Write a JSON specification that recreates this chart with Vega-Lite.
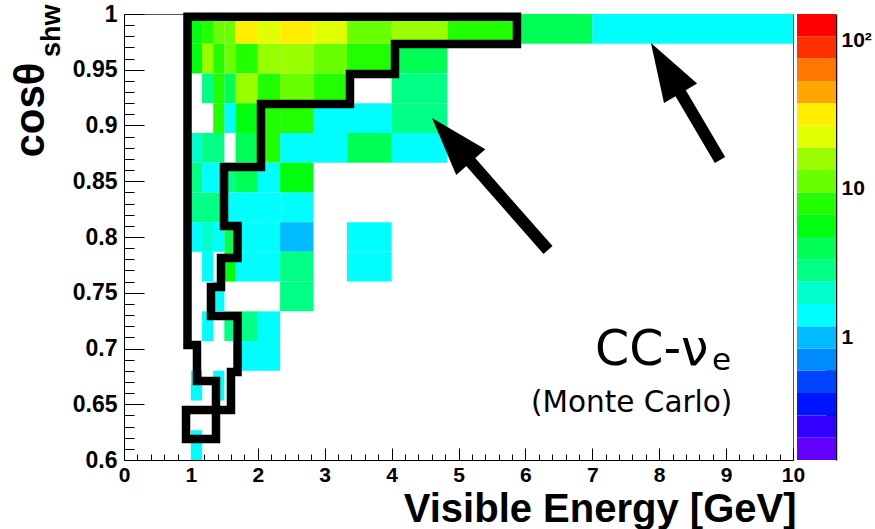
{
  "$schema": "https://vega.github.io/schema/vega-lite/v6.json",
  "width": 669,
  "height": 446,
  "autosize": {"type": "none"},
  "padding": {"left": 124, "top": 14, "right": 82, "bottom": 69},
  "background": "white",
  "config": {
    "view": {"stroke": "#555555", "strokeWidth": 1},
    "font": "Liberation Sans",
    "axis": {"grid": false, "domainColor": "black", "tickColor": "black", "labelColor": "black", "titleColor": "black", "labelOverlap": false, "labelFlush": false, "tickWidth": 1}
  },
  "datasets": {
    "cells": [
      {"e0": 1.0, "e1": 1.1667, "c0": 0.9733, "c1": 1.0, "n": 5.6},
      {"e0": 1.1667, "e1": 1.3333, "c0": 0.9733, "c1": 1.0, "n": 8},
      {"e0": 1.3333, "e1": 1.5, "c0": 0.9733, "c1": 1.0, "n": 11},
      {"e0": 1.5, "e1": 1.6667, "c0": 0.9733, "c1": 1.0, "n": 11},
      {"e0": 1.6667, "e1": 2.0, "c0": 0.9733, "c1": 1.0, "n": 32},
      {"e0": 2.0, "e1": 2.3333, "c0": 0.9733, "c1": 1.0, "n": 22},
      {"e0": 2.3333, "e1": 2.8333, "c0": 0.9733, "c1": 1.0, "n": 34},
      {"e0": 2.8333, "e1": 3.3333, "c0": 0.9733, "c1": 1.0, "n": 22},
      {"e0": 3.3333, "e1": 4.0, "c0": 0.9733, "c1": 1.0, "n": 11},
      {"e0": 4.0, "e1": 4.8333, "c0": 0.9733, "c1": 1.0, "n": 16},
      {"e0": 4.8333, "e1": 5.8333, "c0": 0.9733, "c1": 1.0, "n": 8},
      {"e0": 5.8333, "e1": 7.0, "c0": 0.9733, "c1": 1.0, "n": 4.2},
      {"e0": 7.0, "e1": 10.0, "c0": 0.9733, "c1": 1.0, "n": 1.4},

      {"e0": 1.0, "e1": 1.1667, "c0": 0.9467, "c1": 0.9733, "n": 5.6},
      {"e0": 1.1667, "e1": 1.3333, "c0": 0.9467, "c1": 0.9733, "n": 16},
      {"e0": 1.3333, "e1": 1.5, "c0": 0.9467, "c1": 0.9733, "n": 8},
      {"e0": 1.5, "e1": 1.6667, "c0": 0.9467, "c1": 0.9733, "n": 11},
      {"e0": 1.6667, "e1": 2.0, "c0": 0.9467, "c1": 0.9733, "n": 8},
      {"e0": 2.0, "e1": 2.3333, "c0": 0.9467, "c1": 0.9733, "n": 16},
      {"e0": 2.3333, "e1": 2.8333, "c0": 0.9467, "c1": 0.9733, "n": 16},
      {"e0": 2.8333, "e1": 3.3333, "c0": 0.9467, "c1": 0.9733, "n": 11},
      {"e0": 3.3333, "e1": 4.0, "c0": 0.9467, "c1": 0.9733, "n": 8},
      {"e0": 4.0, "e1": 4.8333, "c0": 0.9467, "c1": 0.9733, "n": 4.2},

      {"e0": 1.1667, "e1": 1.3333, "c0": 0.92, "c1": 0.9467, "n": 2.8},
      {"e0": 1.3333, "e1": 1.5, "c0": 0.92, "c1": 0.9467, "n": 8},
      {"e0": 1.5, "e1": 1.6667, "c0": 0.92, "c1": 0.9467, "n": 4.2},
      {"e0": 1.6667, "e1": 2.0, "c0": 0.92, "c1": 0.9467, "n": 16},
      {"e0": 2.0, "e1": 2.3333, "c0": 0.92, "c1": 0.9467, "n": 8},
      {"e0": 2.3333, "e1": 2.8333, "c0": 0.92, "c1": 0.9467, "n": 11},
      {"e0": 2.8333, "e1": 3.3333, "c0": 0.92, "c1": 0.9467, "n": 8},
      {"e0": 4.0, "e1": 4.8333, "c0": 0.92, "c1": 0.9467, "n": 2.8},

      {"e0": 1.3333, "e1": 1.5, "c0": 0.8933, "c1": 0.92, "n": 8},
      {"e0": 1.5, "e1": 1.6667, "c0": 0.8933, "c1": 0.92, "n": 1.4},
      {"e0": 1.6667, "e1": 2.0, "c0": 0.8933, "c1": 0.92, "n": 5.6},
      {"e0": 2.0, "e1": 2.3333, "c0": 0.8933, "c1": 0.92, "n": 8},
      {"e0": 2.3333, "e1": 2.8333, "c0": 0.8933, "c1": 0.92, "n": 8},
      {"e0": 2.8333, "e1": 3.3333, "c0": 0.8933, "c1": 0.92, "n": 1.4},
      {"e0": 3.3333, "e1": 4.0, "c0": 0.8933, "c1": 0.92, "n": 1.4},
      {"e0": 4.0, "e1": 4.8333, "c0": 0.8933, "c1": 0.92, "n": 2.8},

      {"e0": 1.0, "e1": 1.1667, "c0": 0.8667, "c1": 0.8933, "n": 2.0},
      {"e0": 1.1667, "e1": 1.3333, "c0": 0.8667, "c1": 0.8933, "n": 2.8},
      {"e0": 1.3333, "e1": 1.5, "c0": 0.8667, "c1": 0.8933, "n": 2.8},
      {"e0": 1.6667, "e1": 2.0, "c0": 0.8667, "c1": 0.8933, "n": 4.2},
      {"e0": 2.0, "e1": 2.3333, "c0": 0.8667, "c1": 0.8933, "n": 8},
      {"e0": 2.3333, "e1": 2.8333, "c0": 0.8667, "c1": 0.8933, "n": 1.4},
      {"e0": 2.8333, "e1": 3.3333, "c0": 0.8667, "c1": 0.8933, "n": 1.4},
      {"e0": 3.3333, "e1": 4.0, "c0": 0.8667, "c1": 0.8933, "n": 4.2},
      {"e0": 4.0, "e1": 4.8333, "c0": 0.8667, "c1": 0.8933, "n": 1.4},

      {"e0": 1.0, "e1": 1.1667, "c0": 0.84, "c1": 0.8667, "n": 2.8},
      {"e0": 1.1667, "e1": 1.3333, "c0": 0.84, "c1": 0.8667, "n": 1.4},
      {"e0": 1.3333, "e1": 1.5, "c0": 0.84, "c1": 0.8667, "n": 1.4},
      {"e0": 1.5, "e1": 1.6667, "c0": 0.84, "c1": 0.8667, "n": 2.8},
      {"e0": 1.6667, "e1": 2.0, "c0": 0.84, "c1": 0.8667, "n": 4.2},
      {"e0": 2.0, "e1": 2.3333, "c0": 0.84, "c1": 0.8667, "n": 1.4},
      {"e0": 2.3333, "e1": 2.8333, "c0": 0.84, "c1": 0.8667, "n": 5.6},

      {"e0": 1.0, "e1": 1.1667, "c0": 0.8133, "c1": 0.84, "n": 2.8},
      {"e0": 1.1667, "e1": 1.3333, "c0": 0.8133, "c1": 0.84, "n": 2.8},
      {"e0": 1.3333, "e1": 1.5, "c0": 0.8133, "c1": 0.84, "n": 2.8},
      {"e0": 1.5, "e1": 1.6667, "c0": 0.8133, "c1": 0.84, "n": 1.4},
      {"e0": 1.6667, "e1": 2.0, "c0": 0.8133, "c1": 0.84, "n": 1.4},
      {"e0": 2.0, "e1": 2.3333, "c0": 0.8133, "c1": 0.84, "n": 1.4},
      {"e0": 2.3333, "e1": 2.8333, "c0": 0.8133, "c1": 0.84, "n": 1.4},

      {"e0": 1.0, "e1": 1.1667, "c0": 0.7867, "c1": 0.8133, "n": 1.4},
      {"e0": 1.1667, "e1": 1.3333, "c0": 0.7867, "c1": 0.8133, "n": 2.0},
      {"e0": 1.3333, "e1": 1.5, "c0": 0.7867, "c1": 0.8133, "n": 1.4},
      {"e0": 1.5, "e1": 1.6667, "c0": 0.7867, "c1": 0.8133, "n": 4.2},
      {"e0": 1.6667, "e1": 2.0, "c0": 0.7867, "c1": 0.8133, "n": 1.4},
      {"e0": 2.0, "e1": 2.3333, "c0": 0.7867, "c1": 0.8133, "n": 1.4},
      {"e0": 2.3333, "e1": 2.8333, "c0": 0.7867, "c1": 0.8133, "n": 1.0},
      {"e0": 3.3333, "e1": 4.0, "c0": 0.7867, "c1": 0.8133, "n": 1.4},

      {"e0": 1.1667, "e1": 1.3333, "c0": 0.76, "c1": 0.7867, "n": 1.4},
      {"e0": 1.5, "e1": 1.6667, "c0": 0.76, "c1": 0.7867, "n": 5.6},
      {"e0": 1.6667, "e1": 2.0, "c0": 0.76, "c1": 0.7867, "n": 1.4},
      {"e0": 2.0, "e1": 2.3333, "c0": 0.76, "c1": 0.7867, "n": 1.4},
      {"e0": 2.3333, "e1": 2.8333, "c0": 0.76, "c1": 0.7867, "n": 2.8},
      {"e0": 3.3333, "e1": 4.0, "c0": 0.76, "c1": 0.7867, "n": 1.4},

      {"e0": 1.3333, "e1": 1.5, "c0": 0.7333, "c1": 0.76, "n": 1.4},
      {"e0": 2.3333, "e1": 2.8333, "c0": 0.7333, "c1": 0.76, "n": 2.8},

      {"e0": 1.1667, "e1": 1.3333, "c0": 0.7067, "c1": 0.7333, "n": 1.4},
      {"e0": 1.5, "e1": 1.6667, "c0": 0.7067, "c1": 0.7333, "n": 2.8},
      {"e0": 1.6667, "e1": 2.0, "c0": 0.7067, "c1": 0.7333, "n": 2.8},
      {"e0": 2.0, "e1": 2.3333, "c0": 0.7067, "c1": 0.7333, "n": 1.4},

      {"e0": 1.6667, "e1": 2.0, "c0": 0.68, "c1": 0.7067, "n": 1.4},
      {"e0": 2.0, "e1": 2.3333, "c0": 0.68, "c1": 0.7067, "n": 1.4},

      {"e0": 1.0, "e1": 1.1667, "c0": 0.6533, "c1": 0.68, "n": 1.4},
      {"e0": 1.3333, "e1": 1.5, "c0": 0.6533, "c1": 0.68, "n": 1.4},

      {"e0": 1.0, "e1": 1.1667, "c0": 0.6, "c1": 0.6267, "n": 1.4}
    ],
    "contour": [
      {"k": 1, "ex": 0.949, "cy": 0.9976},
      {"k": 2, "ex": 5.874, "cy": 0.9976},
      {"k": 3, "ex": 5.874, "cy": 0.9731},
      {"k": 4, "ex": 4.051, "cy": 0.9731},
      {"k": 5, "ex": 4.051, "cy": 0.9462},
      {"k": 6, "ex": 3.378, "cy": 0.9462},
      {"k": 7, "ex": 3.378, "cy": 0.9193},
      {"k": 8, "ex": 2.048, "cy": 0.9193},
      {"k": 9, "ex": 2.048, "cy": 0.8628},
      {"k": 10, "ex": 1.495, "cy": 0.8628},
      {"k": 11, "ex": 1.495, "cy": 0.8099},
      {"k": 12, "ex": 1.697, "cy": 0.8099},
      {"k": 13, "ex": 1.697, "cy": 0.7812},
      {"k": 14, "ex": 1.45, "cy": 0.7812},
      {"k": 15, "ex": 1.45, "cy": 0.7552},
      {"k": 16, "ex": 1.3, "cy": 0.7552},
      {"k": 17, "ex": 1.3, "cy": 0.7291},
      {"k": 18, "ex": 1.697, "cy": 0.7291},
      {"k": 19, "ex": 1.697, "cy": 0.6789},
      {"k": 20, "ex": 1.599, "cy": 0.6789},
      {"k": 21, "ex": 1.599, "cy": 0.6448},
      {"k": 22, "ex": 0.927, "cy": 0.6448},
      {"k": 23, "ex": 0.927, "cy": 0.6188},
      {"k": 24, "ex": 1.375, "cy": 0.6188},
      {"k": 25, "ex": 1.375, "cy": 0.6709},
      {"k": 26, "ex": 1.091, "cy": 0.6709},
      {"k": 27, "ex": 1.091, "cy": 0.7031},
      {"k": 28, "ex": 0.949, "cy": 0.7031},
      {"k": 29, "ex": 0.949, "cy": 0.9976}
    ],
    "arrows": [
      {"arrow": 1, "tail_e": 6.338, "tail_c": 0.7883, "neck_e": 4.9, "neck_c": 0.8865, "tip_e": 4.604, "tip_c": 0.9067},
      {"arrow": 2, "tail_e": 8.909, "tail_c": 0.8691, "neck_e": 8.105, "neck_c": 0.9509, "tip_e": 7.877, "tip_c": 0.974}
    ],
    "palette": [
      {"lo": 0.15, "hi": 0.2119, "mid": 0.1783},
      {"lo": 0.2119, "hi": 0.2993, "mid": 0.2518},
      {"lo": 0.2993, "hi": 0.4228, "mid": 0.3557},
      {"lo": 0.4228, "hi": 0.5972, "mid": 0.5024},
      {"lo": 0.5972, "hi": 0.8435, "mid": 0.7097},
      {"lo": 0.8435, "hi": 1.1915, "mid": 1.0025},
      {"lo": 1.1915, "hi": 1.683, "mid": 1.4161},
      {"lo": 1.683, "hi": 2.3773, "mid": 2.0002},
      {"lo": 2.3773, "hi": 3.3581, "mid": 2.8254},
      {"lo": 3.3581, "hi": 4.7435, "mid": 3.9911},
      {"lo": 4.7435, "hi": 6.7004, "mid": 5.6376},
      {"lo": 6.7004, "hi": 9.4646, "mid": 7.9635},
      {"lo": 9.4646, "hi": 13.369, "mid": 11.249},
      {"lo": 13.369, "hi": 18.884, "mid": 15.889},
      {"lo": 18.884, "hi": 26.675, "mid": 22.444},
      {"lo": 26.675, "hi": 37.679, "mid": 31.703},
      {"lo": 37.679, "hi": 53.224, "mid": 44.782},
      {"lo": 53.224, "hi": 75.181, "mid": 63.257},
      {"lo": 75.181, "hi": 106.2, "mid": 89.354},
      {"lo": 106.2, "hi": 150, "mid": 126.21}
    ]
  },
  "layer": [
    {
      "data": {"name": "cells"},
      "mark": {"type": "rect"},
      "encoding": {
        "x": {
          "field": "e0", "type": "quantitative",
          "scale": {"domain": [0, 10], "nice": false, "zero": false},
          "axis": {
            "orient": "bottom",
            "offset": -12,
            "values": [0, 1, 2, 3, 4, 5, 6, 7, 8, 9, 10],
            "tickSize": 12,
            "domain": false,
            "labelPadding": 4,
            "labelFont": "Liberation Sans", "labelFontWeight": "bold", "labelFontSize": 21,
            "title": "Visible Energy [GeV]",
            "titleFont": "Liberation Sans", "titleFontWeight": "bold", "titleFontSize": 40,
            "titleAnchor": "end", "titleAlign": "right", "titleBaseline": "alphabetic",
            "titleX": 672, "titleY": 73
          }
        },
        "x2": {"field": "e1"},
        "y": {
          "field": "c0", "type": "quantitative",
          "scale": {"domain": [0.6, 1.0], "nice": false, "zero": false},
          "axis": {
            "orient": "left",
            "offset": -20,
            "values": [0.6, 0.65, 0.7, 0.75, 0.8, 0.85, 0.9, 0.95, 1.0],
            "labelExpr": "'' + datum.value",
            "tickSize": 20,
            "domain": false,
            "labelPadding": 7,
            "labelFont": "Liberation Sans", "labelFontWeight": "bold", "labelFontSize": 23,
            "title": "cosθ",
            "titleFont": "Liberation Sans", "titleFontWeight": "bold", "titleFontSize": 42,
            "titleAngle": 270, "titleAlign": "left", "titleBaseline": "alphabetic",
            "titleX": -101, "titleY": 143
          }
        },
        "y2": {"field": "c1"},
        "color": {
          "field": "n", "type": "quantitative",
          "scale": {
            "type": "threshold",
            "domain": [0.2119, 0.2993, 0.4228, 0.5972, 0.8435, 1.1915, 1.683, 2.3773, 3.3581, 4.7435, 6.7004, 9.4646, 13.369, 18.884, 26.675, 37.679, 53.224, 75.181, 106.2],
            "range": ["#6300ff", "#3300ff", "#0014ff", "#0044ff", "#008bff", "#00bbff", "#00fffc", "#00ffcc", "#00ff85", "#00ff55", "#00ff0e", "#22ff00", "#69ff00", "#99ff00", "#e0ff00", "#ffee00", "#ffa700", "#ff7700", "#ff3000", "#ff0000"]
          },
          "legend": null
        }
      }
    },
    {
      "data": {"name": "contour"},
      "mark": {"type": "line", "color": "black", "strokeWidth": 8.5, "strokeJoin": "miter", "strokeCap": "square"},
      "encoding": {
        "x": {
          "field": "ex", "type": "quantitative",
          "axis": {
            "orient": "bottom",
            "offset": -6,
            "values": [0.2, 0.4, 0.6, 0.8, 1.2, 1.4, 1.6, 1.8, 2.2, 2.4, 2.6, 2.8, 3.2, 3.4, 3.6, 3.8, 4.2, 4.4, 4.6, 4.8, 5.2, 5.4, 5.6, 5.8, 6.2, 6.4, 6.6, 6.8, 7.2, 7.4, 7.6, 7.8, 8.2, 8.4, 8.6, 8.8, 9.2, 9.4, 9.6, 9.8],
            "tickSize": 6, "labels": false, "domain": false, "title": null
          }
        },
        "y": {
          "field": "cy", "type": "quantitative",
          "scale": {"domain": [0.6, 1.0], "nice": false, "zero": false},
          "axis": {
            "orient": "left",
            "offset": -10,
            "values": [0.61, 0.62, 0.63, 0.64, 0.66, 0.67, 0.68, 0.69, 0.71, 0.72, 0.73, 0.74, 0.76, 0.77, 0.78, 0.79, 0.81, 0.82, 0.83, 0.84, 0.86, 0.87, 0.88, 0.89, 0.91, 0.92, 0.93, 0.94, 0.96, 0.97, 0.98, 0.99],
            "tickSize": 10, "labels": false, "domain": false, "title": null
          }
        },
        "order": {"field": "k", "type": "quantitative"}
      }
    },
    {
      "data": {"name": "arrows"},
      "mark": {"type": "rule", "color": "black", "strokeWidth": 12, "strokeCap": "butt"},
      "encoding": {
        "x": {
          "field": "tail_e", "type": "quantitative",
          "axis": {"orient": "bottom", "ticks": false, "labels": false, "domain": true, "domainWidth": 1, "title": null}
        },
        "y": {
          "field": "tail_c", "type": "quantitative",
          "scale": {"domain": [0.6, 1.0], "nice": false, "zero": false},
          "axis": {"orient": "left", "ticks": false, "labels": false, "domain": true, "domainWidth": 1, "title": null}
        },
        "x2": {"field": "neck_e"},
        "y2": {"field": "neck_c"}
      }
    },
    {
      "data": {"name": "arrows"},
      "transform": [{"filter": "datum.arrow == 1"}],
      "mark": {"type": "point", "shape": "M0,0L0.66,2L-0.66,2Z", "filled": true, "color": "black", "opacity": 1, "strokeWidth": 0, "size": 3450, "angle": 318.7},
      "encoding": {
        "x": {"field": "tip_e", "type": "quantitative", "axis": null},
        "y": {"field": "tip_c", "type": "quantitative", "scale": {"domain": [0.6, 1.0], "nice": false, "zero": false}, "axis": null}
      }
    },
    {
      "data": {"name": "arrows"},
      "transform": [{"filter": "datum.arrow == 2"}],
      "mark": {"type": "point", "shape": "M0,0L0.66,2L-0.66,2Z", "filled": true, "color": "black", "opacity": 1, "strokeWidth": 0, "size": 3400, "angle": 329.5},
      "encoding": {
        "x": {"field": "tip_e", "type": "quantitative", "axis": null},
        "y": {"field": "tip_c", "type": "quantitative", "scale": {"domain": [0.6, 1.0], "nice": false, "zero": false}, "axis": null}
      }
    },
    {
      "data": {"values": [{"label": "shw", "e": -0.957, "c": 0.9614}]},
      "mark": {"type": "text", "font": "Liberation Sans", "fontWeight": "bold", "fontSize": 27, "angle": 270, "align": "left", "baseline": "alphabetic", "color": "black"},
      "encoding": {
        "x": {"field": "e", "type": "quantitative", "axis": null},
        "y": {"field": "c", "type": "quantitative", "scale": {"domain": [0.6, 1.0], "nice": false, "zero": false}, "axis": null},
        "text": {"field": "label"}
      }
    },
    {
      "data": {"values": [{"label": "CC-ν", "e": 7.04, "c": 0.6852}]},
      "mark": {"type": "text", "font": "DejaVu Sans", "fontSize": 49, "align": "left", "baseline": "alphabetic", "color": "black"},
      "encoding": {
        "x": {"field": "e", "type": "quantitative", "axis": null},
        "y": {"field": "c", "type": "quantitative", "scale": {"domain": [0.6, 1.0], "nice": false, "zero": false}, "axis": null},
        "text": {"field": "label"}
      }
    },
    {
      "data": {"values": [{"label": "e", "e": 8.79, "c": 0.6807}]},
      "mark": {"type": "text", "font": "DejaVu Sans", "fontSize": 31, "align": "left", "baseline": "alphabetic", "color": "black"},
      "encoding": {
        "x": {"field": "e", "type": "quantitative", "axis": null},
        "y": {"field": "c", "type": "quantitative", "scale": {"domain": [0.6, 1.0], "nice": false, "zero": false}, "axis": null},
        "text": {"field": "label"}
      }
    },
    {
      "data": {"values": [{"label": "(Monte Carlo)", "e": 6.084, "c": 0.643}]},
      "mark": {"type": "text", "font": "DejaVu Sans", "fontSize": 29.5, "align": "left", "baseline": "alphabetic", "color": "black"},
      "encoding": {
        "x": {"field": "e", "type": "quantitative", "axis": null},
        "y": {"field": "c", "type": "quantitative", "scale": {"domain": [0.6, 1.0], "nice": false, "zero": false}, "axis": null},
        "text": {"field": "label"}
      }
    },
    {
      "data": {"name": "palette"},
      "mark": {"type": "rect"},
      "encoding": {
        "x": {"datum": 10.06, "type": "quantitative", "axis": null},
        "x2": {"datum": 10.643},
        "y": {
          "field": "lo", "type": "quantitative",
          "scale": {"type": "log", "domain": [0.15, 150], "nice": false},
          "axis": {
            "orient": "right",
            "offset": 23,
            "values": [1, 10, 100],
            "labelExpr": "datum.value == 100 ? '10²' : '' + datum.value",
            "tickSize": 20,
            "domain": false,
            "labelPadding": 5,
            "labelAlign": "left",
            "labelFont": "Liberation Sans", "labelFontWeight": "bold", "labelFontSize": 21,
            "title": null
          }
        },
        "y2": {"field": "hi"},
        "color": {
          "field": "mid", "type": "quantitative",
          "scale": {
            "type": "threshold",
            "domain": [0.2119, 0.2993, 0.4228, 0.5972, 0.8435, 1.1915, 1.683, 2.3773, 3.3581, 4.7435, 6.7004, 9.4646, 13.369, 18.884, 26.675, 37.679, 53.224, 75.181, 106.2],
            "range": ["#6300ff", "#3300ff", "#0014ff", "#0044ff", "#008bff", "#00bbff", "#00fffc", "#00ffcc", "#00ff85", "#00ff55", "#00ff0e", "#22ff00", "#69ff00", "#99ff00", "#e0ff00", "#ffee00", "#ffa700", "#ff7700", "#ff3000", "#ff0000"]
          },
          "legend": null
        }
      }
    },
    {
      "data": {"name": "palette"},
      "mark": {"type": "rect", "opacity": 0},
      "encoding": {
        "x": {"datum": 10.06, "type": "quantitative", "axis": null},
        "x2": {"datum": 10.643},
        "y": {
          "field": "lo", "type": "quantitative",
          "scale": {"type": "log", "domain": [0.15, 150], "nice": false},
          "axis": {
            "orient": "right",
            "offset": 33,
            "values": [0.2, 0.3, 0.4, 0.5, 0.6, 0.7, 0.8, 0.9, 2, 3, 4, 5, 6, 7, 8, 9, 20, 30, 40, 50, 60, 70, 80, 90],
            "tickSize": 10, "labels": false, "domain": false, "title": null
          }
        },
        "y2": {"field": "hi"}
      }
    },
    {
      "data": {"name": "palette"},
      "mark": {"type": "rect", "opacity": 0},
      "encoding": {
        "x": {"datum": 10.06, "type": "quantitative", "axis": null},
        "x2": {"datum": 10.643},
        "y": {
          "field": "lo", "type": "quantitative",
          "scale": {"type": "log", "domain": [0.15, 150], "nice": false},
          "axis": {"orient": "right", "offset": 43, "ticks": false, "labels": false, "domain": true, "domainWidth": 1.5, "title": null}
        },
        "y2": {"field": "hi"}
      }
    }
  ],
  "resolve": {"scale": {"y": "independent"}, "axis": {"x": "independent", "y": "independent"}}
}
